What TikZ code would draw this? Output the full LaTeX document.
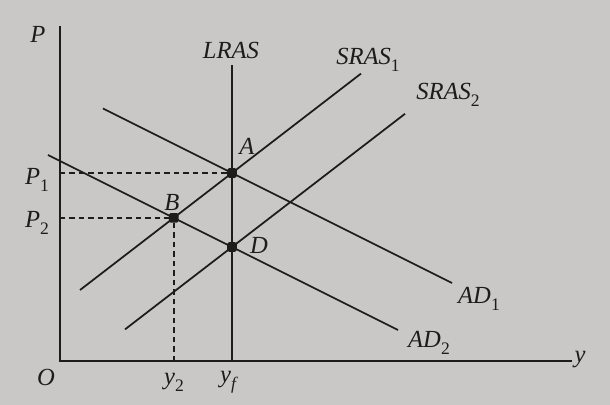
\documentclass[tikz,border=0pt]{standalone}
\usepackage{fontspec}
\setmainfont{Liberation Serif}
\usetikzlibrary{positioning, calc}
\definecolor{paper}{RGB}{201, 200, 198}
\definecolor{ink}{RGB}{28, 28, 28}
\newcommand{\sub}[1]{\raisebox{-0.6ex}{\fontsize{10}{12}\selectfont\upshape #1}}

\begin{document}
\begin{tikzpicture}[
  x=0.4cm, y=0.4cm,
  axis/.style={line width=1pt, draw=ink},
  curve/.style={line width=1pt, draw=ink},
  guide/.style={line width=1pt, draw=ink, dash pattern=on 3pt off 2.4pt},
  eqdot/.style={rectangle, rounded corners=1pt, fill=ink, inner sep=0pt, minimum size=5.5pt},
  lbl/.style={font=\fontsize{14}{16}\selectfont\itshape, text=ink, inner sep=1pt}
]

% Paper
\fill[paper] (-3, -2.2) rectangle (27.5, 18.05);
\useasboundingbox (-3, -2.2) rectangle (27.5, 18.05);

% Points
\coordinate (O) at (0, 0);
\coordinate (ytop) at (0, 16.75);
\coordinate (xend) at (25.6, 0);
\coordinate (A) at (8.6, 9.4);
\coordinate (B) at (5.687, 7.157);
\coordinate (D) at (8.6, 5.7);
\coordinate (yf) at (8.6, 0);
\coordinate (lrastop) at (8.6, 14.8);
\coordinate (ad1s) at (2.15, 12.625);
\coordinate (ad1e) at (19.6, 3.9);
\coordinate (ad2s) at (-0.6, 10.3);
\coordinate (ad2e) at (16.9, 1.55);
\coordinate (sr1s) at (1.0, 3.548);
\coordinate (sr1e) at (15.05, 14.37);
\coordinate (sr2s) at (3.25, 1.58);
\coordinate (sr2e) at (17.25, 12.36);
\coordinate (p1) at (0, 9.4);
\coordinate (p2) at (0, 7.157);
\coordinate (y2) at (5.687, 0);

% Axes
\draw[axis] (ytop) -- (O) -- (xend);

% Guides
\draw[guide] (p1) -- (A);
\draw[guide] (p2) -- (B);
\draw[guide] (y2) -- (B);

% Curves
\draw[curve] (yf) -- (lrastop);
\draw[curve] (ad1s) -- (ad1e);
\draw[curve] (ad2s) -- (ad2e);
\draw[curve] (sr1s) -- (sr1e);
\draw[curve] (sr2s) -- (sr2e);

% Equilibria
\node[eqdot] (dotA) at (A) {};
\node[eqdot] (dotB) at (B) {};
\node[eqdot] (dotD) at (D) {};

% Labels
\node[lbl] (lblP) at (-1.1, 16.35) {P};
\node[lbl] (lblP1) at (-1.15, 9.05) {P\sub{1}};
\node[lbl] (lblP2) at (-1.15, 6.9) {P\sub{2}};
\node[lbl] (lblO) at (-0.7, -0.8) {O};
\node[lbl] (lbly2) at (5.7, -1.05) {y\sub{2}};
\node[lbl] (lblyf) at (8.4, -1.05) {y\sub{\itshape f}};
\node[lbl] (lbly) at (26.0, 0.05) {y};
\node[lbl] (lblLRAS) at (8.55, 15.55) {LRAS};
\node[lbl] (lblSR1) at (15.4, 15.05) {SRAS\sub{1}};
\node[lbl] (lblSR2) at (19.4, 13.3) {SRAS\sub{2}};
\node[lbl] (lblAD1) at (20.95, 3.1) {AD\sub{1}};
\node[lbl] (lblAD2) at (18.45, 0.9) {AD\sub{2}};
\node[lbl] (lblA) at (9.35, 10.75) {A};
\node[lbl] (lblB) at (5.6, 7.95) {B};
\node[lbl] (lblD) at (9.95, 5.8) {D};

\end{tikzpicture}
\end{document}
